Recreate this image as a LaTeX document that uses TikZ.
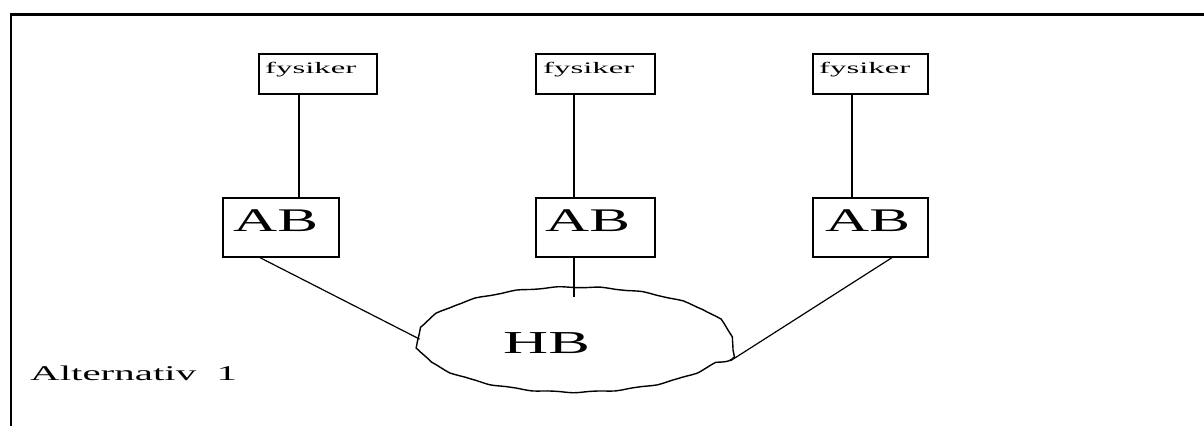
\documentclass[tikz,border=0pt]{standalone}
\usepackage{fontspec}
\setmainfont{Liberation Serif}
\usetikzlibrary{shapes.geometric,decorations.pathmorphing}
\begin{document}
\begin{tikzpicture}[x=1pt,y=-1pt,
  frame/.style={line width=2.6pt},
  box/.style={draw,line width=1.3pt,inner sep=0pt},
  conn/.style={line width=1.2pt},
  txt/.style={inner sep=0pt,anchor=base west},
  small/.style={txt,font=\fontsize{16}{16}\selectfont},
  big/.style={txt,font=\fontsize{33}{33}\selectfont},
  cloud/.style={draw,ellipse,line width=1.4pt,inner sep=0pt,minimum width=316pt,minimum height=105pt,
     decorate,decoration={snake,amplitude=0.6pt,segment length=42pt}}
]
\useasboundingbox (0,0) rectangle (1204,426);
% frame
\draw[frame] (11,426) -- (11,14.5) -- (1204,14.5);
% fysiker boxes
\node[box,minimum width=118pt,minimum height=40pt] (f1) at (318,74) {};
\node[box,minimum width=119pt,minimum height=40pt] (f2) at (595.5,74) {};
\node[box,minimum width=115pt,minimum height=40pt] (f3) at (870.5,74) {};
% AB boxes
\node[box,minimum width=116pt,minimum height=59pt] (a1) at (281,227.5) {};
\node[box,minimum width=119pt,minimum height=59pt] (a2) at (595.5,227.5) {};
\node[box,minimum width=115pt,minimum height=59pt] (a3) at (870.5,227.5) {};
% HB
\node[cloud] (hb) at (575,350) {};
% texts
\node[small] (t1) at (265,73) {\scalebox{2.05}[1]{fysiker}};
\node[small] (t2) at (543,73) {\scalebox{2.05}[1]{fysiker}};
\node[small] (t3) at (819,73) {\scalebox{2.05}[1]{fysiker}};
\node[big] (b1) at (233,231) {\scalebox{1.85}[1]{AB}};
\node[big] (b2) at (545,231) {\scalebox{1.85}[1]{AB}};
\node[big] (b3) at (825,231) {\scalebox{1.85}[1]{AB}};
\node[txt,font=\fontsize{32}{32}\selectfont] (hbt) at (503,353) {\scalebox{1.95}[1]{HB}};
\node[txt,font=\fontsize{21}{21}\selectfont] (alt) at (30,380) {\scalebox{1.95}[1]{Alternativ\ \ 1}};
% connectors
\draw[conn] ([xshift=-19pt]f1.south) -- ([xshift=18pt]a1.north);
\draw[conn] ([xshift=-21.5pt]f2.south) -- ([xshift=-21.5pt]a2.north);
\draw[conn] ([xshift=-18.5pt]f3.south) -- ([xshift=-18.5pt]a3.north);
\draw[conn] ([xshift=-21pt]a1.south) -- (hb.176.4);
\draw[conn] ([xshift=-21.5pt]a2.south) -- ([xshift=-1pt]hb.north);
\draw[conn] ([xshift=21.5pt]a3.south) -- (hb.356.4);
\end{tikzpicture}
\end{document}
